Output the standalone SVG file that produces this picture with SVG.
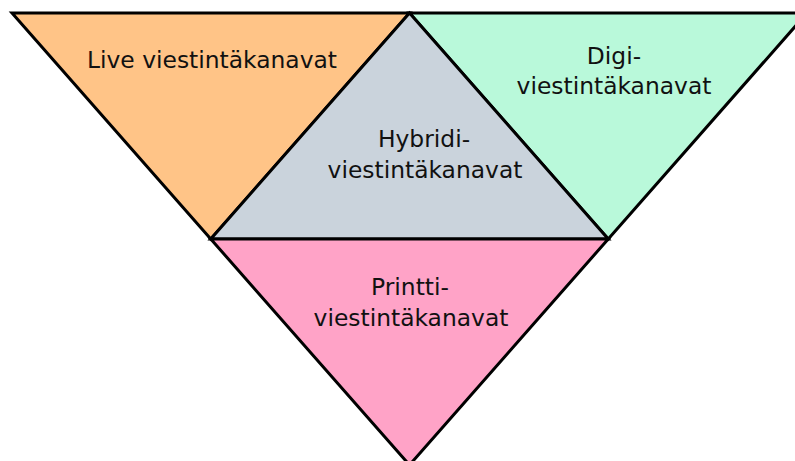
<svg xmlns="http://www.w3.org/2000/svg" width="795" height="461" viewBox="0 0 795 461">
  <style>
    .tri { stroke: #000; stroke-width: 3; stroke-linejoin: miter; }
    .lbl { font-family: "DejaVu Sans", "Liberation Sans", sans-serif; font-size: 23.4px; fill: #111; text-anchor: middle; }
  </style>
  <rect width="795" height="461" fill="#fff"/>
  <g id="live">
    <polygon class="tri" points="12,13 409.5,13 210.75,239" fill="#FFC487"/>
    <text class="lbl" x="212" y="68">Live viestintäkanavat</text>
  </g>
  <g id="digi">
    <polygon class="tri" points="409.5,13 807,13 608.25,239" fill="#B9F9DA"/>
    <text class="lbl" x="614" y="64">Digi-</text>
    <text class="lbl" x="614" y="94">viestintäkanavat</text>
  </g>
  <g id="hybridi">
    <polygon class="tri" points="409.5,13 608.25,239 210.75,239" fill="#CAD3DC"/>
    <text class="lbl" x="424" y="147">Hybridi-</text>
    <text class="lbl" x="425" y="178">viestintäkanavat</text>
  </g>
  <g id="printti">
    <polygon class="tri" points="210.75,239 608.25,239 409.5,465" fill="#FFA3C7"/>
    <text class="lbl" x="410" y="295">Printti-</text>
    <text class="lbl" x="411" y="326">viestintäkanavat</text>
  </g>
</svg>
